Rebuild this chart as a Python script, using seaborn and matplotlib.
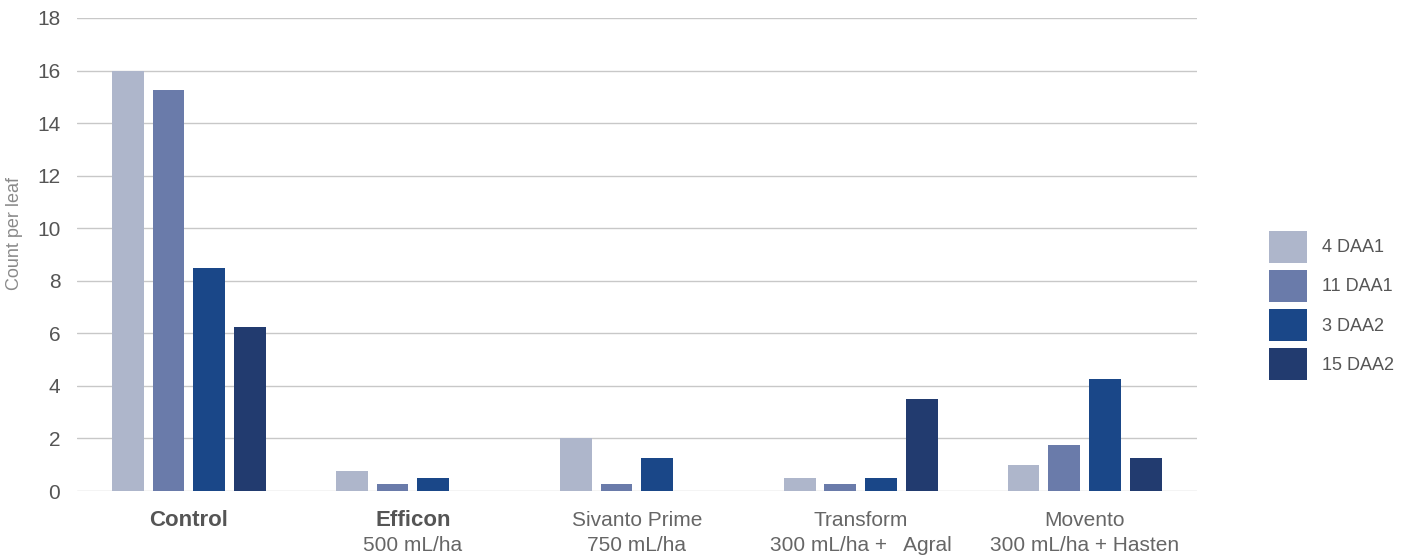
import pandas as pd
import matplotlib.pyplot as plt
import seaborn as sns

# Chart data
treatments = ["Control", "Efficon", "Sivanto Prime", "Transform", "Movento"]
rates = ["", "500 mL/ha", "750 mL/ha", "300 mL/ha +   Agral", "300 mL/ha + Hasten"]
bold_names = ["Control", "Efficon"]
timings = ["4 DAA1", "11 DAA1", "3 DAA2", "15 DAA2"]
daa1_4 = [16.0, 0.75, 2.0, 0.5, 1.0]
daa1_11 = [15.25, 0.25, 0.25, 0.25, 1.75]
daa2_3 = [8.5, 0.5, 1.25, 0.5, 4.25]
daa2_15 = [6.25, 0.0, 0.0, 3.5, 1.25]
colors = ["#aeb6cb", "#6a7baa", "#1a4788", "#223b6f"]

# Long format for seaborn
rows = []
for name, vals in zip(timings, [daa1_4, daa1_11, daa2_3, daa2_15]):
    for t, v in zip(treatments, vals):
        rows.append({"Treatment": t, "Timing": name, "Count": v})
df = pd.DataFrame(rows)

sns.set_style("white")
plt.rcParams['font.family'] = ['Liberation Sans', 'DejaVu Sans']

fig = plt.figure(figsize=(14.13, 5.55), dpi=100)
ax = fig.add_axes([0.0545, 0.1153, 0.7925, 0.8523])

sns.barplot(data=df, x="Treatment", y="Count", hue="Timing", order=treatments,
            hue_order=timings, palette=colors, width=0.73, gap=0.22,
            linewidth=0, saturation=1, ax=ax, legend=True)

ax.set_ylim(0, 18)
ax.set_yticks(range(0, 19, 2))
ax.set_xlim(-0.5, len(treatments) - 0.5)
ax.yaxis.grid(True, color="#c8c8c8", linewidth=1)
ax.set_axisbelow(True)
sns.despine(ax=ax, left=True, bottom=True)
ax.tick_params(axis="y", labelsize=15, labelcolor="#555555", length=0, pad=12)
ax.tick_params(axis="x", length=0)
ax.set_xticks(range(len(treatments)))
ax.set_xticklabels([""] * len(treatments))
ax.set_xlabel("")
ax.set_ylabel("Count per leaf", fontsize=13, color="#8a8a8a", va="center")
ax.yaxis.set_label_coords(-0.0554, 0.545)

# Two-line category labels
for i, (t, r) in enumerate(zip(treatments, rates)):
    bold = t in bold_names
    ax.annotate(t, xy=(i, 0), xycoords=("data", "axes fraction"),
                xytext=(0, -21), textcoords="offset points", ha="center", va="center",
                fontsize=16 if bold else 15, color="#555555" if bold else "#666666",
                fontweight="bold" if bold else "normal")
    if r:
        ax.annotate(r, xy=(i, 0), xycoords=("data", "axes fraction"),
                    xytext=(0, -39), textcoords="offset points", ha="center", va="center",
                    fontsize=15, color="#666666")

handles, labels = ax.get_legend_handles_labels()
ax.get_legend().remove()
fig.legend(handles, labels, loc="center left", bbox_to_anchor=(1269 / 1413, 0.4495),
           frameon=False, fontsize=13, labelcolor="#555555", handlelength=2.1,
           handleheight=2.35, labelspacing=0.4, handletextpad=0.85,
           borderpad=0, borderaxespad=0)

plt.savefig("out.png", dpi=100)
